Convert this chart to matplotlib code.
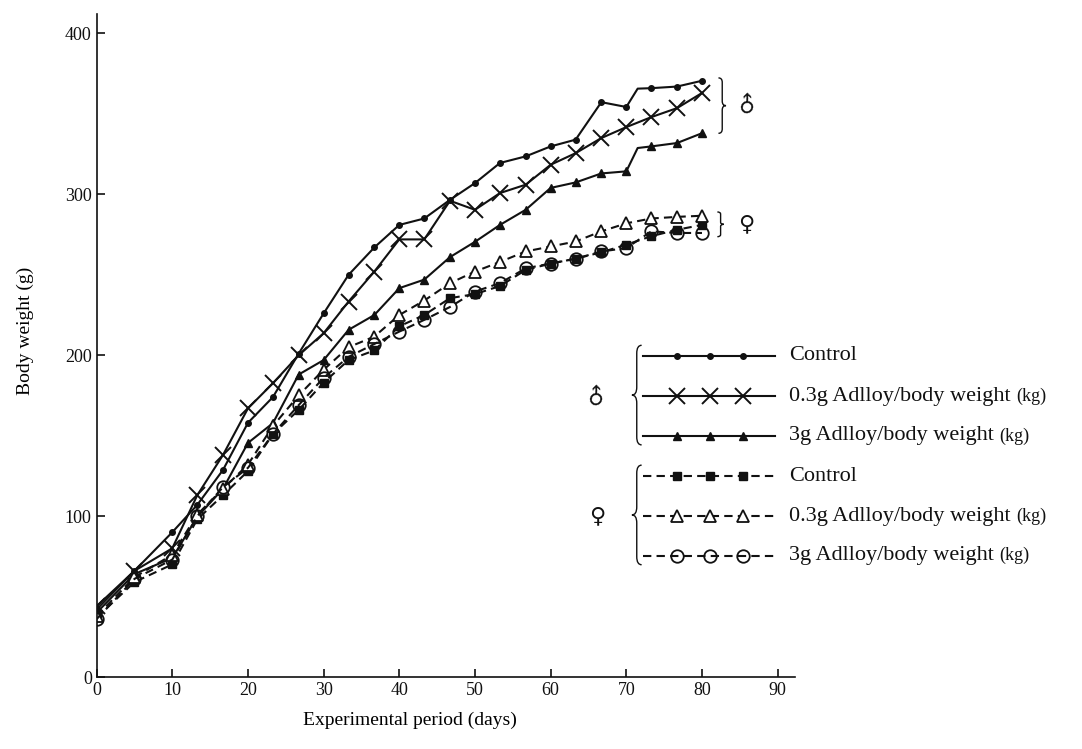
import numpy as np
import matplotlib
matplotlib.use("Agg")
import matplotlib.pyplot as plt
from matplotlib.path import Path
from matplotlib.patches import PathPatch
from matplotlib.lines import Line2D

plt.rcParams["font.family"] = ["Liberation Serif", "DejaVu Sans"]

days = [0, 5, 10, 13.3, 16.7, 20, 23.3, 26.7, 30, 33.3, 36.7, 40, 43.3, 46.7,
        50, 53.3, 56.7, 60, 63.3, 66.7, 70, 73.3, 76.7, 80]

# males
m_ctrl = [42, 66, 90, 107, 128.7, 158, 174, 201, 226, 250, 267, 281, 285, 296.6,
          307, 319.5, 323.6, 329.8, 334, 357.3, 354.3, 366, 367, 370.6]
m_low = [44, 66, 80, 113, 138, 167, 182.6, 200, 213.7, 233.4, 252, 272, 272, 296,
         290.4, 300.8, 306, 318.4, 325.6, 335, 341.8, 348, 353.6, 363]
m_high = [40, 64, 74, 99.5, 117, 145.5, 157.8, 188, 197, 215.8, 225, 241.7, 247, 261,
          270.5, 281, 290.4, 304, 307.4, 313, 314.3, 329.8, 331.9, 338]
# kink in the male control / 3g lines between day 70 and 73.3
kink_day = 71.5
m_ctrl_kink = 365.7
m_high_kink = 328.8

# females
f_ctrl = [37, 59, 70, 98, 113, 128, 151, 166, 183, 197, 203, 218, 225, 235.5,
          238, 243, 253, 257, 260, 264, 268.7, 274, 278, 281]
f_low = [38, 62, 76, 101, 117, 132, 156, 175, 191, 205, 211.6, 225, 234, 244.8,
         252, 258, 264.5, 267.6, 270.7, 277, 282, 285, 286, 286.7]
f_high = [36, 61, 73, 100, 118, 130, 151, 169, 186, 199, 207, 214.7, 222, 230,
          239.6, 244.8, 254, 257, 260, 264.5, 266.6, 277, 276, 276]

labels = ["Control", "0.3g Adlloy/body weight", "3g Adlloy/body weight"]

INK = "#111111"
DASH = (0, (4, 2.5))

fig = plt.figure(figsize=(10.82, 7.49), dpi=100)
ax = fig.add_axes([0.0893, 0.0961, 0.6455, 0.885])

styles = {
    "m_ctrl": dict(ls="-", marker="o", ms=4, mfc=INK, mec=INK),
    "m_low": dict(ls="-", marker="x", ms=11, mew=1.4, mec=INK),
    "m_high": dict(ls="-", marker="^", ms=6, mfc=INK, mec=INK),
    "f_ctrl": dict(ls=DASH, marker="s", ms=6, mfc=INK, mec=INK),
    "f_low": dict(ls=DASH, marker="^", ms=9, mfc="white", mec=INK, mew=1.3),
    "f_high": dict(ls=DASH, marker="o", ms=9, mfc="none", mec=INK, mew=1.3),
}

d = np.array(days)
k = np.searchsorted(d, kink_day)
dk = np.insert(d, k, kink_day)
marks = [i for i in range(len(dk)) if i != k]

ax.plot(dk, np.insert(m_ctrl, k, m_ctrl_kink), color=INK, lw=1.5,
        markevery=marks, **styles["m_ctrl"])
ax.plot(d, m_low, color=INK, lw=1.5, **styles["m_low"])
ax.plot(dk, np.insert(m_high, k, m_high_kink), color=INK, lw=1.5,
        markevery=marks, **styles["m_high"])
ax.plot(d, f_ctrl, color=INK, lw=1.5, **styles["f_ctrl"])
ax.plot(d, f_low, color=INK, lw=1.5, **styles["f_low"])
ax.plot(d, f_high, color=INK, lw=1.5, **styles["f_high"])

ax.set_xlim(0, 92.3)
ax.set_ylim(0, 412)
ax.set_xticks(range(0, 91, 10))
ax.set_yticks(range(0, 401, 100))
for s in ["top", "right"]:
    ax.spines[s].set_visible(False)
for s in ["left", "bottom"]:
    ax.spines[s].set_linewidth(1.2)
    ax.spines[s].set_color(INK)
ax.tick_params(direction="in", length=6, width=1.2, labelsize=13, colors=INK)
ax.set_xlabel("Experimental period (days)", fontsize=14)
ax.set_ylabel("Body weight (g)", fontsize=14)
ax.xaxis.set_label_coords(0.449, -0.053)
ax.yaxis.set_label_coords(-0.09, 0.522)


def brace(x0, x1, y0, y1, left=True):
    # curly brace in figure coords; x0..x1 width, y0 bottom, y1 top
    ym = (y0 + y1) / 2
    q = (y1 - y0) * 0.08
    xm = (x0 + x1) / 2
    if left:
        tip, end = x0, x1
    else:
        tip, end = x1, x0
    v = [(end, y1), (xm, y1), (xm, y1 - q), (xm, ym + q), (xm, ym), (tip, ym),
         (xm, ym), (xm, ym - q), (xm, y0 + q), (xm, y0), (end, y0)]
    c = [Path.MOVETO, Path.CURVE3, Path.CURVE3, Path.LINETO, Path.CURVE3, Path.CURVE3,
         Path.CURVE3, Path.CURVE3, Path.LINETO, Path.CURVE3, Path.CURVE3]
    fig.add_artist(PathPatch(Path(v, c), transform=fig.transFigure, fc="none",
                             ec=INK, lw=1.0))


# braces + sex symbols next to the curve ends
brace(0.664, 0.671, 0.822, 0.896, left=False)
brace(0.663, 0.669, 0.684, 0.717, left=False)
fig.text(0.691, 0.860, "♂", fontsize=16, family="DejaVu Sans", rotation=45,
         ha="center", va="center", color=INK)
fig.text(0.690, 0.700, "♀", fontsize=16, family="DejaVu Sans",
         ha="center", va="center", color=INK)

# hand-built legend
rows_y = [0.525, 0.471, 0.418, 0.364, 0.311, 0.258]
order = ["m_ctrl", "m_low", "m_high", "f_ctrl", "f_low", "f_high"]
lx0, lx1 = 0.594, 0.716
mx = [0.626, 0.656, 0.687]
tx = 0.729
for i, (key, y) in enumerate(zip(order, rows_y)):
    st = dict(styles[key])
    ls = st.pop("ls")
    fig.add_artist(Line2D([lx0, lx1], [y, y], transform=fig.transFigure,
                          color=INK, lw=1.5, ls=ls))
    fig.add_artist(Line2D(mx, [y] * 3, transform=fig.transFigure, color=INK,
                          ls="none", **st))
    t = fig.text(tx, y, labels[i % 3], fontsize=16, va="center", ha="left", color=INK)
    if i % 3:
        ax.annotate("(kg)", xy=(1, 0.5), xycoords=t, xytext=(4, 0),
                    textcoords="offset points", fontsize=13, va="center",
                    ha="left", color=INK, annotation_clip=False)

brace(0.584, 0.593, 0.406, 0.539, left=True)
brace(0.584, 0.593, 0.246, 0.379, left=True)
fig.text(0.552, 0.471, "♂", fontsize=16, family="DejaVu Sans", rotation=45,
         ha="center", va="center", color=INK)
fig.text(0.552, 0.311, "♀", fontsize=16, family="DejaVu Sans",
         ha="center", va="center", color=INK)

fig.savefig("out.png", dpi=100)
